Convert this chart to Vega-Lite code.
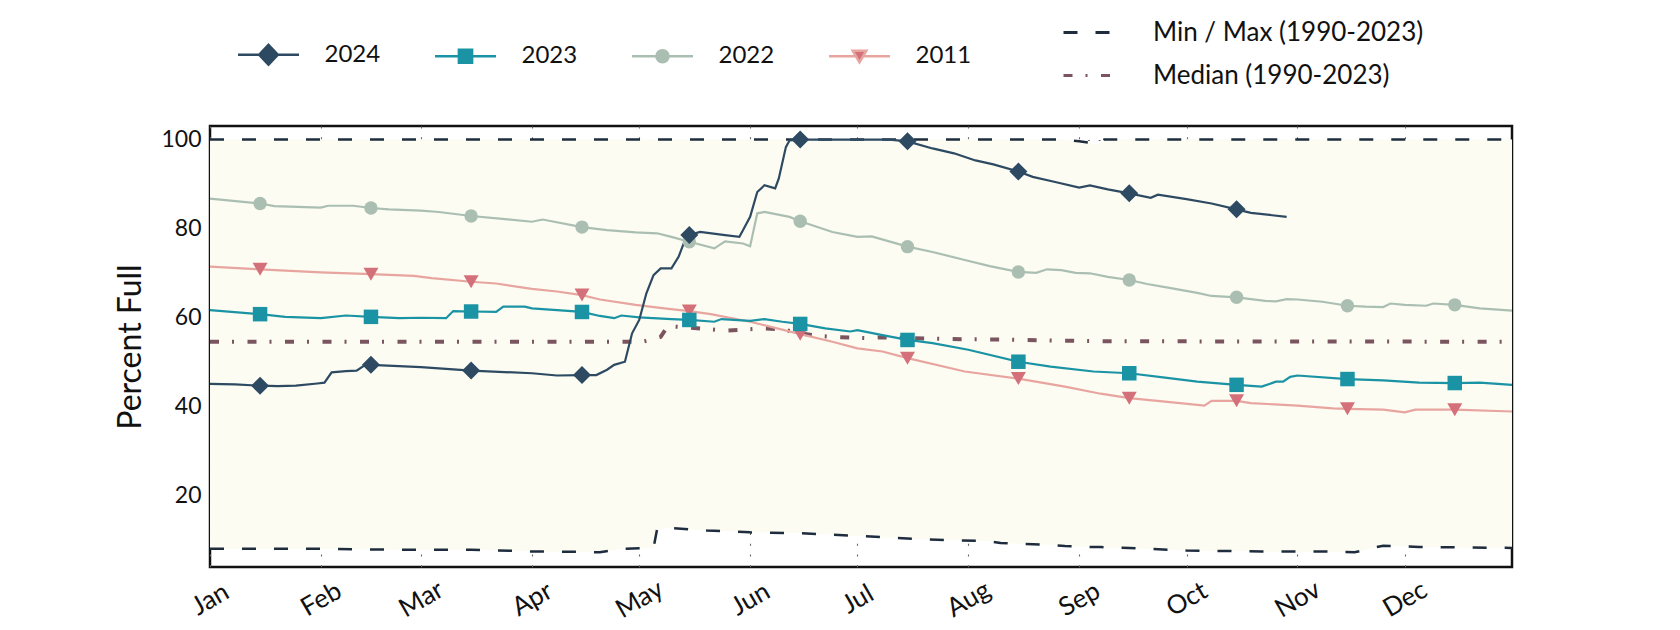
{
  "$schema": "https://vega.github.io/schema/vega-lite/v6.json",
  "width": 1302,
  "height": 441,
  "autosize": {"type": "none"},
  "padding": {"left": 210, "top": 126, "right": 168, "bottom": 63},
  "background": "white",
  "config": {
    "font": "Lato",
    "view": {"stroke": "#111111", "strokeWidth": 2.5},
    "axis": {
      "labelFont": "Lato", "labelFontSize": 23, "labelColor": "#111111",
      "titleFont": "Lato", "titleFontSize": 32, "titleFontWeight": "normal", "titleColor": "#111111",
      "grid": true, "gridColor": "#666666", "gridDash": [2, 8.7], "gridWidth": 1.1,
      "domain": false, "ticks": false, "tickSize": 0, "zindex": 1
    },
    "legend": {"labelFont": "Lato", "labelFontSize": 24, "labelColor": "#111111", "labelLimit": 400, "padding": 0, "symbolOpacity": 1}
  },
  "datasets": {
    "band": [
      {"date": "2023-01-01", "min": 7.9, "max": 100},
      {"date": "2023-02-01", "min": 7.9, "max": 100},
      {"date": "2023-02-20", "min": 7.7, "max": 100},
      {"date": "2023-03-15", "min": 7.7, "max": 100},
      {"date": "2023-04-01", "min": 7.3, "max": 100},
      {"date": "2023-04-15", "min": 7.2, "max": 100},
      {"date": "2023-04-20", "min": 7.1, "max": 100},
      {"date": "2023-04-26", "min": 7.9, "max": 100},
      {"date": "2023-05-05", "min": 8.1, "max": 100},
      {"date": "2023-05-06", "min": 12.3, "max": 100},
      {"date": "2023-05-09", "min": 12.6, "max": 100},
      {"date": "2023-05-20", "min": 12.0, "max": 100},
      {"date": "2023-06-01", "min": 11.6, "max": 100},
      {"date": "2023-06-15", "min": 11.4, "max": 100},
      {"date": "2023-07-01", "min": 10.8, "max": 100},
      {"date": "2023-07-20", "min": 10.0, "max": 100},
      {"date": "2023-08-07", "min": 9.6, "max": 100},
      {"date": "2023-08-10", "min": 9.2, "max": 100},
      {"date": "2023-08-24", "min": 8.8, "max": 100},
      {"date": "2023-08-28", "min": 8.5, "max": 100},
      {"date": "2023-09-01", "min": 8.4, "max": 99.6},
      {"date": "2023-09-04", "min": 8.3, "max": 99.3},
      {"date": "2023-09-06", "min": 8.3, "max": 98.7},
      {"date": "2023-09-07", "min": 8.3, "max": 99.4},
      {"date": "2023-09-08", "min": 8.2, "max": 100},
      {"date": "2023-09-15", "min": 8.1, "max": 100},
      {"date": "2023-10-01", "min": 7.5, "max": 100},
      {"date": "2023-10-22", "min": 7.3, "max": 100},
      {"date": "2023-11-10", "min": 7.3, "max": 100},
      {"date": "2023-11-17", "min": 7.1, "max": 100},
      {"date": "2023-11-21", "min": 7.9, "max": 100},
      {"date": "2023-11-25", "min": 8.6, "max": 100},
      {"date": "2023-12-05", "min": 8.3, "max": 100},
      {"date": "2023-12-31", "min": 8.1, "max": 100}
    ],
    "median": [
      {"date": "2023-01-01", "v": 54.5},
      {"date": "2023-05-02", "v": 54.5},
      {"date": "2023-05-05", "v": 55.1},
      {"date": "2023-05-07", "v": 55.6},
      {"date": "2023-05-09", "v": 58.0},
      {"date": "2023-05-15", "v": 57.7},
      {"date": "2023-05-25", "v": 57.0},
      {"date": "2023-06-05", "v": 57.5},
      {"date": "2023-06-10", "v": 57.3},
      {"date": "2023-06-15", "v": 56.4},
      {"date": "2023-06-20", "v": 55.8},
      {"date": "2023-06-24", "v": 55.6},
      {"date": "2023-07-04", "v": 55.3},
      {"date": "2023-07-08", "v": 55.5},
      {"date": "2023-07-26", "v": 55.1},
      {"date": "2023-08-10", "v": 55.0},
      {"date": "2023-08-22", "v": 54.8},
      {"date": "2023-09-10", "v": 54.6},
      {"date": "2023-12-31", "v": 54.5}
    ],
    "series": [
      {"date": "2023-01-01", "year": "2011", "v": 71.4},
      {"date": "2023-01-15", "year": "2011", "v": 70.8},
      {"date": "2023-02-01", "year": "2011", "v": 70.1},
      {"date": "2023-02-15", "year": "2011", "v": 69.7},
      {"date": "2023-02-27", "year": "2011", "v": 69.3},
      {"date": "2023-03-04", "year": "2011", "v": 68.8},
      {"date": "2023-03-15", "year": "2011", "v": 68.0},
      {"date": "2023-03-22", "year": "2011", "v": 67.6},
      {"date": "2023-04-01", "year": "2011", "v": 66.4},
      {"date": "2023-04-08", "year": "2011", "v": 65.8},
      {"date": "2023-04-15", "year": "2011", "v": 65.0},
      {"date": "2023-04-20", "year": "2011", "v": 64.0},
      {"date": "2023-04-30", "year": "2011", "v": 62.8},
      {"date": "2023-05-08", "year": "2011", "v": 62.0},
      {"date": "2023-05-15", "year": "2011", "v": 61.4},
      {"date": "2023-05-21", "year": "2011", "v": 60.7},
      {"date": "2023-06-01", "year": "2011", "v": 59.0},
      {"date": "2023-06-15", "year": "2011", "v": 56.2},
      {"date": "2023-06-24", "year": "2011", "v": 54.5},
      {"date": "2023-07-01", "year": "2011", "v": 53.0},
      {"date": "2023-07-08", "year": "2011", "v": 52.3},
      {"date": "2023-07-15", "year": "2011", "v": 50.8},
      {"date": "2023-07-31", "year": "2011", "v": 47.8},
      {"date": "2023-08-15", "year": "2011", "v": 46.2},
      {"date": "2023-08-28", "year": "2011", "v": 44.4},
      {"date": "2023-09-07", "year": "2011", "v": 42.8},
      {"date": "2023-09-15", "year": "2011", "v": 41.8},
      {"date": "2023-09-25", "year": "2011", "v": 41.0},
      {"date": "2023-10-06", "year": "2011", "v": 40.1},
      {"date": "2023-10-08", "year": "2011", "v": 41.2},
      {"date": "2023-10-15", "year": "2011", "v": 41.2},
      {"date": "2023-10-19", "year": "2011", "v": 40.7},
      {"date": "2023-11-01", "year": "2011", "v": 40.1},
      {"date": "2023-11-11", "year": "2011", "v": 39.5},
      {"date": "2023-11-15", "year": "2011", "v": 39.4},
      {"date": "2023-11-25", "year": "2011", "v": 39.2},
      {"date": "2023-12-01", "year": "2011", "v": 38.6},
      {"date": "2023-12-04", "year": "2011", "v": 39.2},
      {"date": "2023-12-15", "year": "2011", "v": 39.2},
      {"date": "2023-12-31", "year": "2011", "v": 38.8},

      {"date": "2023-01-01", "year": "2022", "v": 86.7},
      {"date": "2023-01-15", "year": "2022", "v": 85.6},
      {"date": "2023-01-19", "year": "2022", "v": 85.0},
      {"date": "2023-02-01", "year": "2022", "v": 84.7},
      {"date": "2023-02-03", "year": "2022", "v": 85.1},
      {"date": "2023-02-10", "year": "2022", "v": 85.1},
      {"date": "2023-02-15", "year": "2022", "v": 84.6},
      {"date": "2023-02-20", "year": "2022", "v": 84.3},
      {"date": "2023-03-01", "year": "2022", "v": 84.0},
      {"date": "2023-03-06", "year": "2022", "v": 83.7},
      {"date": "2023-03-15", "year": "2022", "v": 82.8},
      {"date": "2023-03-23", "year": "2022", "v": 82.2},
      {"date": "2023-04-01", "year": "2022", "v": 81.5},
      {"date": "2023-04-04", "year": "2022", "v": 82.0},
      {"date": "2023-04-15", "year": "2022", "v": 80.3},
      {"date": "2023-04-22", "year": "2022", "v": 79.6},
      {"date": "2023-04-30", "year": "2022", "v": 79.1},
      {"date": "2023-05-06", "year": "2022", "v": 78.9},
      {"date": "2023-05-10", "year": "2022", "v": 78.1},
      {"date": "2023-05-15", "year": "2022", "v": 77.0},
      {"date": "2023-05-22", "year": "2022", "v": 75.5},
      {"date": "2023-05-25", "year": "2022", "v": 77.1},
      {"date": "2023-05-30", "year": "2022", "v": 76.6},
      {"date": "2023-06-01", "year": "2022", "v": 76.0},
      {"date": "2023-06-03", "year": "2022", "v": 83.4},
      {"date": "2023-06-05", "year": "2022", "v": 83.7},
      {"date": "2023-06-12", "year": "2022", "v": 82.6},
      {"date": "2023-06-15", "year": "2022", "v": 81.6},
      {"date": "2023-06-24", "year": "2022", "v": 79.2},
      {"date": "2023-07-01", "year": "2022", "v": 78.1},
      {"date": "2023-07-05", "year": "2022", "v": 78.2},
      {"date": "2023-07-15", "year": "2022", "v": 75.9},
      {"date": "2023-07-22", "year": "2022", "v": 74.7},
      {"date": "2023-07-31", "year": "2022", "v": 72.9},
      {"date": "2023-08-07", "year": "2022", "v": 71.5},
      {"date": "2023-08-15", "year": "2022", "v": 70.2},
      {"date": "2023-08-20", "year": "2022", "v": 70.0},
      {"date": "2023-08-23", "year": "2022", "v": 70.8},
      {"date": "2023-08-27", "year": "2022", "v": 70.6},
      {"date": "2023-08-31", "year": "2022", "v": 70.0},
      {"date": "2023-09-04", "year": "2022", "v": 69.9},
      {"date": "2023-09-09", "year": "2022", "v": 69.1},
      {"date": "2023-09-15", "year": "2022", "v": 68.4},
      {"date": "2023-09-20", "year": "2022", "v": 67.5},
      {"date": "2023-09-27", "year": "2022", "v": 66.5},
      {"date": "2023-10-04", "year": "2022", "v": 65.5},
      {"date": "2023-10-08", "year": "2022", "v": 64.8},
      {"date": "2023-10-15", "year": "2022", "v": 64.5},
      {"date": "2023-10-23", "year": "2022", "v": 63.7},
      {"date": "2023-10-26", "year": "2022", "v": 63.6},
      {"date": "2023-10-29", "year": "2022", "v": 64.1},
      {"date": "2023-11-01", "year": "2022", "v": 64.0},
      {"date": "2023-11-08", "year": "2022", "v": 63.5},
      {"date": "2023-11-15", "year": "2022", "v": 62.6},
      {"date": "2023-11-20", "year": "2022", "v": 62.4},
      {"date": "2023-11-25", "year": "2022", "v": 62.3},
      {"date": "2023-11-27", "year": "2022", "v": 63.1},
      {"date": "2023-12-01", "year": "2022", "v": 62.8},
      {"date": "2023-12-07", "year": "2022", "v": 62.6},
      {"date": "2023-12-09", "year": "2022", "v": 63.1},
      {"date": "2023-12-15", "year": "2022", "v": 62.8},
      {"date": "2023-12-22", "year": "2022", "v": 62.0},
      {"date": "2023-12-31", "year": "2022", "v": 61.5},

      {"date": "2023-01-01", "year": "2023", "v": 61.6},
      {"date": "2023-01-15", "year": "2023", "v": 60.7},
      {"date": "2023-01-22", "year": "2023", "v": 60.1},
      {"date": "2023-02-01", "year": "2023", "v": 59.8},
      {"date": "2023-02-08", "year": "2023", "v": 60.4},
      {"date": "2023-02-15", "year": "2023", "v": 60.1},
      {"date": "2023-02-23", "year": "2023", "v": 59.8},
      {"date": "2023-03-01", "year": "2023", "v": 59.9},
      {"date": "2023-03-08", "year": "2023", "v": 59.8},
      {"date": "2023-03-10", "year": "2023", "v": 61.4},
      {"date": "2023-03-15", "year": "2023", "v": 61.3},
      {"date": "2023-03-22", "year": "2023", "v": 61.2},
      {"date": "2023-03-24", "year": "2023", "v": 62.4},
      {"date": "2023-03-30", "year": "2023", "v": 62.4},
      {"date": "2023-04-01", "year": "2023", "v": 62.0},
      {"date": "2023-04-15", "year": "2023", "v": 61.2},
      {"date": "2023-04-20", "year": "2023", "v": 60.3},
      {"date": "2023-04-24", "year": "2023", "v": 59.8},
      {"date": "2023-04-26", "year": "2023", "v": 60.4},
      {"date": "2023-05-01", "year": "2023", "v": 60.0},
      {"date": "2023-05-10", "year": "2023", "v": 59.6},
      {"date": "2023-05-15", "year": "2023", "v": 59.4},
      {"date": "2023-05-22", "year": "2023", "v": 59.0},
      {"date": "2023-05-24", "year": "2023", "v": 59.6},
      {"date": "2023-06-01", "year": "2023", "v": 59.2},
      {"date": "2023-06-05", "year": "2023", "v": 59.6},
      {"date": "2023-06-10", "year": "2023", "v": 59.0},
      {"date": "2023-06-15", "year": "2023", "v": 58.5},
      {"date": "2023-06-22", "year": "2023", "v": 57.5},
      {"date": "2023-06-29", "year": "2023", "v": 56.8},
      {"date": "2023-07-01", "year": "2023", "v": 57.1},
      {"date": "2023-07-08", "year": "2023", "v": 56.0},
      {"date": "2023-07-15", "year": "2023", "v": 54.9},
      {"date": "2023-07-22", "year": "2023", "v": 54.2},
      {"date": "2023-08-01", "year": "2023", "v": 52.7},
      {"date": "2023-08-15", "year": "2023", "v": 50.0},
      {"date": "2023-08-24", "year": "2023", "v": 48.9},
      {"date": "2023-09-05", "year": "2023", "v": 47.8},
      {"date": "2023-09-15", "year": "2023", "v": 47.4},
      {"date": "2023-09-25", "year": "2023", "v": 46.4},
      {"date": "2023-10-04", "year": "2023", "v": 45.5},
      {"date": "2023-10-15", "year": "2023", "v": 44.8},
      {"date": "2023-10-22", "year": "2023", "v": 44.4},
      {"date": "2023-10-26", "year": "2023", "v": 45.5},
      {"date": "2023-10-28", "year": "2023", "v": 45.5},
      {"date": "2023-10-30", "year": "2023", "v": 46.6},
      {"date": "2023-11-01", "year": "2023", "v": 46.9},
      {"date": "2023-11-15", "year": "2023", "v": 46.1},
      {"date": "2023-11-25", "year": "2023", "v": 45.8},
      {"date": "2023-12-05", "year": "2023", "v": 45.3},
      {"date": "2023-12-15", "year": "2023", "v": 45.2},
      {"date": "2023-12-22", "year": "2023", "v": 45.3},
      {"date": "2023-12-31", "year": "2023", "v": 44.8},

      {"date": "2023-01-01", "year": "2024", "v": 45.0},
      {"date": "2023-01-08", "year": "2024", "v": 44.9},
      {"date": "2023-01-15", "year": "2024", "v": 44.6},
      {"date": "2023-01-20", "year": "2024", "v": 44.5},
      {"date": "2023-01-25", "year": "2024", "v": 44.6},
      {"date": "2023-01-31", "year": "2024", "v": 45.1},
      {"date": "2023-02-02", "year": "2024", "v": 45.3},
      {"date": "2023-02-04", "year": "2024", "v": 47.6},
      {"date": "2023-02-08", "year": "2024", "v": 47.9},
      {"date": "2023-02-11", "year": "2024", "v": 48.0},
      {"date": "2023-02-13", "year": "2024", "v": 49.1},
      {"date": "2023-02-15", "year": "2024", "v": 49.3},
      {"date": "2023-03-01", "year": "2024", "v": 48.8},
      {"date": "2023-03-15", "year": "2024", "v": 48.0},
      {"date": "2023-04-01", "year": "2024", "v": 47.4},
      {"date": "2023-04-08", "year": "2024", "v": 46.9},
      {"date": "2023-04-15", "year": "2024", "v": 47.0},
      {"date": "2023-04-19", "year": "2024", "v": 47.0},
      {"date": "2023-04-22", "year": "2024", "v": 48.2},
      {"date": "2023-04-24", "year": "2024", "v": 49.3},
      {"date": "2023-04-27", "year": "2024", "v": 50.0},
      {"date": "2023-04-29", "year": "2024", "v": 56.4},
      {"date": "2023-05-01", "year": "2024", "v": 59.4},
      {"date": "2023-05-03", "year": "2024", "v": 65.4},
      {"date": "2023-05-05", "year": "2024", "v": 69.5},
      {"date": "2023-05-07", "year": "2024", "v": 71.0},
      {"date": "2023-05-10", "year": "2024", "v": 71.0},
      {"date": "2023-05-12", "year": "2024", "v": 73.6},
      {"date": "2023-05-14", "year": "2024", "v": 77.8},
      {"date": "2023-05-15", "year": "2024", "v": 78.5},
      {"date": "2023-05-18", "year": "2024", "v": 79.2},
      {"date": "2023-05-25", "year": "2024", "v": 78.5},
      {"date": "2023-05-29", "year": "2024", "v": 78.1},
      {"date": "2023-05-30", "year": "2024", "v": 79.6},
      {"date": "2023-06-01", "year": "2024", "v": 82.6},
      {"date": "2023-06-03", "year": "2024", "v": 88.2},
      {"date": "2023-06-05", "year": "2024", "v": 89.7},
      {"date": "2023-06-08", "year": "2024", "v": 89.0},
      {"date": "2023-06-09", "year": "2024", "v": 91.2},
      {"date": "2023-06-11", "year": "2024", "v": 98.3},
      {"date": "2023-06-12", "year": "2024", "v": 99.8},
      {"date": "2023-06-15", "year": "2024", "v": 100.0},
      {"date": "2023-07-10", "year": "2024", "v": 100.0},
      {"date": "2023-07-15", "year": "2024", "v": 99.6},
      {"date": "2023-07-22", "year": "2024", "v": 98.0},
      {"date": "2023-07-28", "year": "2024", "v": 96.9},
      {"date": "2023-08-03", "year": "2024", "v": 95.3},
      {"date": "2023-08-08", "year": "2024", "v": 94.4},
      {"date": "2023-08-15", "year": "2024", "v": 92.8},
      {"date": "2023-08-19", "year": "2024", "v": 91.6},
      {"date": "2023-08-25", "year": "2024", "v": 90.5},
      {"date": "2023-09-01", "year": "2024", "v": 89.2},
      {"date": "2023-09-04", "year": "2024", "v": 89.7},
      {"date": "2023-09-09", "year": "2024", "v": 88.8},
      {"date": "2023-09-15", "year": "2024", "v": 87.9},
      {"date": "2023-09-21", "year": "2024", "v": 86.9},
      {"date": "2023-09-23", "year": "2024", "v": 87.6},
      {"date": "2023-10-01", "year": "2024", "v": 86.6},
      {"date": "2023-10-08", "year": "2024", "v": 85.6},
      {"date": "2023-10-15", "year": "2024", "v": 84.3},
      {"date": "2023-10-19", "year": "2024", "v": 83.5},
      {"date": "2023-10-29", "year": "2024", "v": 82.6}
    ]
  },
  "layer": [
    {
      "data": {"name": "band"},
      "mark": {"type": "area", "color": "#fcfcf2", "opacity": 1},
      "encoding": {
        "x": {
          "field": "date", "type": "temporal",
          "scale": {"type": "utc", "domain": [{"year": 2023, "month": 1, "date": 1, "utc": true}, {"year": 2023, "month": 12, "date": 31, "utc": true}]},
          "axis": {"title": null, "labelExpr": "utcFormat(datum.value, '%b')", "tickCount": {"interval": "month", "step": 1}, "labelAngle": -30, "labelAlign": "center", "labelBaseline": "middle", "labelPadding": 32, "labelFontSize": 26, "labelFlush": false, "labelOverlap": false}
        },
        "y": {
          "field": "min", "type": "quantitative",
          "scale": {"domain": [3.8, 103.05], "nice": false, "zero": false},
          "axis": {"title": "Percent Full", "values": [20, 40, 60, 80, 100], "labelPadding": 9, "titlePadding": 13, "labelFlush": false}
        },
        "y2": {"field": "max"}
      }
    },
    {
      "data": {"name": "band"},
      "transform": [{"fold": ["min", "max"], "as": ["which", "pct"]}],
      "mark": {"type": "line", "strokeWidth": 2.5},
      "encoding": {
        "x": {"field": "date", "type": "temporal"},
        "y": {"field": "pct", "type": "quantitative"},
        "detail": {"field": "which", "type": "nominal"},
        "stroke": {
          "datum": "Min / Max (1990-2023)", "type": "nominal",
          "scale": {"domain": ["Min / Max (1990-2023)", "Median (1990-2023)"], "range": ["#1e2c3e", "#7a5560"]},
          "legend": {
            "orient": "none", "legendX": 853, "legendY": -106.5, "direction": "vertical", "title": null,
            "symbolType": "M-2.136,0H2.136", "symbolSize": 484, "symbolStrokeWidth": 3.2, "labelFontSize": 26,
            "symbolOffset": 11, "labelOffset": 53, "rowPadding": 17
          }
        },
        "strokeDash": {
          "datum": "Min / Max (1990-2023)", "type": "nominal",
          "scale": {"domain": ["Min / Max (1990-2023)", "Median (1990-2023)"], "range": [[14, 18], [9, 13, 2, 13.5]]},
          "legend": {
            "orient": "none", "legendX": 853, "legendY": -106.5, "direction": "vertical", "title": null,
            "symbolType": "M-2.136,0H2.136", "symbolSize": 484, "symbolStrokeWidth": 3.2, "labelFontSize": 26,
            "symbolOffset": 11, "labelOffset": 53, "rowPadding": 17
          }
        }
      }
    },
    {
      "data": {"name": "median"},
      "mark": {"type": "line", "strokeWidth": 4},
      "encoding": {
        "x": {"field": "date", "type": "temporal"},
        "y": {"field": "v", "type": "quantitative"},
        "stroke": {"datum": "Median (1990-2023)", "type": "nominal"},
        "strokeDash": {"datum": "Median (1990-2023)", "type": "nominal"}
      }
    },
    {
      "data": {"name": "series"},
      "mark": {"type": "line", "strokeWidth": 2.2},
      "encoding": {
        "x": {"field": "date", "type": "temporal"},
        "y": {"field": "v", "type": "quantitative"},
        "color": {
          "field": "year", "type": "nominal",
          "scale": {"domain": ["2024", "2023", "2022", "2011"], "range": ["#2d4a62", "#1a93a5", "#aabfb2", "#e8a5a0"]},
          "legend": {
            "orient": "none", "legendX": 28, "legendY": -84, "direction": "horizontal", "columns": 4, "title": null,
            "symbolSize": 484, "symbolStrokeWidth": 2.5, "symbolOffset": 18, "labelOffset": 43.5, "columnPadding": 49
          }
        }
      }
    },
    {
      "data": {"name": "series"},
      "transform": [{"filter": "datum.v < 0"}],
      "mark": {"type": "point", "filled": true, "opacity": 1},
      "encoding": {
        "x": {"field": "date", "type": "temporal"},
        "y": {"field": "v", "type": "quantitative"},
        "fill": {
          "field": "year", "type": "nominal",
          "scale": {"domain": ["2024", "2023", "2022", "2011"], "range": ["#2d4a62", "#1a93a5", "#aabfb2", "#d4707a"]},
          "legend": {
            "orient": "none", "legendX": 28, "legendY": -84, "direction": "horizontal", "columns": 4, "title": null,
            "symbolSize": 484, "symbolStrokeWidth": 2.5, "symbolOffset": 18, "labelOffset": 43.5, "columnPadding": 49
          }
        },
        "shape": {
          "field": "year", "type": "nominal",
          "scale": {"domain": ["2024", "2023", "2022", "2011"], "range": [
            "M-2.77,0H-0.85M0.85,0H2.77M0,-0.9L0.85,0L0,0.9L-0.85,0Z",
            "M-2.77,0H-0.6M0.6,0H2.77M-0.6,-0.6H0.6V0.6H-0.6Z",
            "M-2.77,0H-0.55M0.55,0H2.77M0.55,0A0.55,0.55,0,1,1,-0.55,0A0.55,0.55,0,1,1,0.55,0Z",
            "M-2.77,0H-0.33M0.33,0H2.77M-0.62,-0.5H0.62L0,0.55Z"
          ]},
          "legend": {
            "orient": "none", "legendX": 28, "legendY": -84, "direction": "horizontal", "columns": 4, "title": null,
            "symbolSize": 484, "symbolStrokeWidth": 2.5, "symbolOffset": 18, "labelOffset": 43.5, "columnPadding": 49
          }
        }
      }
    },
    {
      "data": {"name": "series"},
      "transform": [{"filter": "datum.year == '2011' && utcdate(datum.date) == 15"}],
      "mark": {"type": "point", "shape": "triangle-down", "size": 225, "filled": true, "fill": "#d4707a", "opacity": 1},
      "encoding": {"x": {"field": "date", "type": "temporal"}, "y": {"field": "v", "type": "quantitative"}}
    },
    {
      "data": {"name": "series"},
      "transform": [{"filter": "datum.year == '2022' && utcdate(datum.date) == 15"}],
      "mark": {"type": "point", "shape": "circle", "size": 180, "filled": true, "fill": "#aabfb2", "opacity": 1},
      "encoding": {"x": {"field": "date", "type": "temporal"}, "y": {"field": "v", "type": "quantitative"}}
    },
    {
      "data": {"name": "series"},
      "transform": [{"filter": "datum.year == '2023' && utcdate(datum.date) == 15"}],
      "mark": {"type": "point", "shape": "square", "size": 210, "filled": true, "fill": "#1a93a5", "opacity": 1},
      "encoding": {"x": {"field": "date", "type": "temporal"}, "y": {"field": "v", "type": "quantitative"}}
    },
    {
      "data": {"name": "series"},
      "transform": [{"filter": "datum.year == '2024' && utcdate(datum.date) == 15"}],
      "mark": {"type": "point", "shape": "diamond", "size": 324, "filled": true, "fill": "#2d4a62", "opacity": 1},
      "encoding": {"x": {"field": "date", "type": "temporal"}, "y": {"field": "v", "type": "quantitative"}}
    }
  ]
}
